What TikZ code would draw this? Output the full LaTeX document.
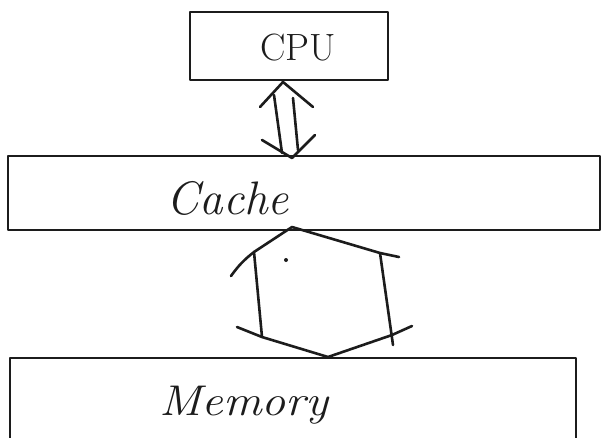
\documentclass[tikz,border=0pt]{standalone}
\definecolor{inkc}{HTML}{1C1C1C}
\begin{document}
\begin{tikzpicture}[x=1pt,y=-1pt,
  ink/.style={draw=inkc, line width=2.6pt, line cap=round, line join=round},
  box/.style={ink, rectangle, inner sep=0pt},
  word/.style={text=inkc, inner sep=0pt, anchor=base}]
\useasboundingbox[fill=white] (0,0) rectangle (602,437);

% the three blocks
\node[box, minimum width=198pt, minimum height=68pt] (cpu) at (289,46) {};
\node[box, minimum width=592pt, minimum height=74pt] (cache) at (304,193) {};
\node[box, minimum width=566pt, minimum height=92pt] (mem) at (293,404) {};

% block labels
\node[word, font=\fontsize{38}{42}\selectfont] (cpulabel) at (298,60) {CPU};
\node[word, font=\fontsize{47}{52}\selectfont\itshape] (cachelabel) at (228,214) {Cache};
\node[word, font=\fontsize{43}{48}\selectfont\itshape, xscale=1.12] (memlabel) at (244,415) {Memory};

% CPU <-> Cache: two shafts with open heads
\coordinate (uptip) at (283,82);
\coordinate (downtip) at (292,158);
\draw[ink] (260,107) -- (uptip) -- (313,107);
\draw[ink] (274,95) -- (282,153);
\draw[ink] (293,98) -- (298,150);
\draw[ink] (262,140) -- (downtip) -- (315,135);

% Cache <-> Memory: wide double arrow
\coordinate (hextop) at (292,227);
\coordinate (hexbot) at (328,357);
\draw[ink] (231,276) to[bend left=8] (254,252) -- (hextop) -- (380,253) -- (399,257);
\draw[ink] (254,252) -- (262,337);
\draw[ink] (380,253) -- (393,345);
\draw[ink] (237,327) -- (262,337) -- (hexbot) -- (392,335) -- (412,326);
\fill[inkc] (286,260) circle (2pt);
\end{tikzpicture}
\end{document}
